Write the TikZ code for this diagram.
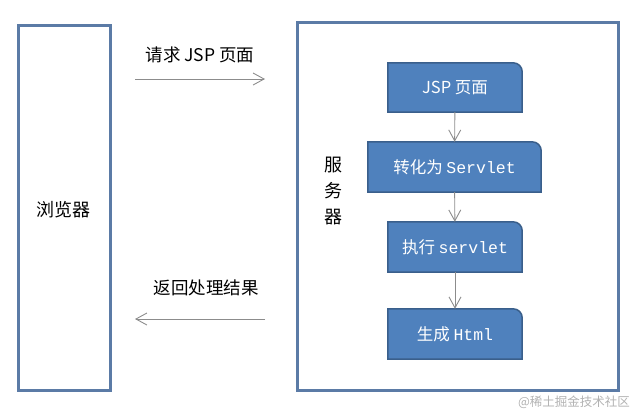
\documentclass[tikz,border=0pt]{standalone}
\usepackage{fontspec}
\setmainfont{Noto Sans CJK SC}
\setmonofont{Liberation Mono}
\usetikzlibrary{arrows.meta, backgrounds}
\definecolor{boxblue}{HTML}{4F81BD}
\definecolor{boxedge}{HTML}{3A5F8B}
\definecolor{frameblue}{HTML}{5B7BA6}
\definecolor{arrowgray}{HTML}{8C8C8C}

\begin{document}
\begin{tikzpicture}[x=1pt, y=-1pt,
    frame/.style={draw=frameblue, line width=3pt},
    stage/.style={text=white, font=\fontsize{16.5}{18}\selectfont, inner sep=0pt},
    flow/.style={draw=arrowgray, line width=0.9pt, -{Straight Barb[length=11pt, width=12pt]}},
    caption/.style={font=\fontsize{17.5}{20}\selectfont}]
    \useasboundingbox (0,0) rectangle (640,413);

    % Browser and server frames
    \draw[frame] (18,25) rectangle (110,390);
    \node[caption, font=\fontsize{18}{20}\selectfont] (browser) at (63,210) {浏览器};
    \draw[frame] (297,22) rectangle (618,390);
    \node[caption, font=\fontsize{18}{26}\selectfont, align=center] (server) at (333,191) {服\\务\\器};

    % Stages inside the server
    \node[stage, minimum width=134pt, minimum height=49pt] (jsp) at (455,87.5) {JSP 页面};
    \node[stage, minimum width=173pt, minimum height=50pt] (servlet) at (454.5,167) {转化为 \texttt{Servlet}};
    \node[stage, minimum width=134pt, minimum height=50pt] (exec) at (455,247) {执行 \texttt{servlet}};
    \node[stage, minimum width=134pt, minimum height=50pt] (html) at (455,334) {生成 \texttt{Html}};
    \begin{scope}[on background layer]
        \foreach \n in {jsp, servlet, exec, html}
            \draw[fill=boxblue, draw=boxedge, line width=1.5pt]
                (\n.south west) -- (\n.north west) -- ([xshift=-9pt]\n.north east)
                arc[start angle=90, end angle=0, radius=9pt] -- (\n.south east) -- cycle;
    \end{scope}

    % Arrows between stages
    \draw[flow] (jsp) -- (servlet);
    \draw[flow] (servlet) -- (exec);
    \draw[flow] (exec) -- (html);

    % Request and response
    \coordinate (reqa) at (135,79);
    \coordinate (reqb) at (265,79);
    \coordinate (resa) at (265,319);
    \coordinate (resb) at (135,319);
    \draw[flow] (reqa) -- (reqb);
    \draw[flow] (resa) -- (resb);
    \node[caption] (reqlabel) at (200,55) {请求 JSP 页面};
    \node[caption] (reslabel) at (206,288) {返回处理结果};

    \node[text=gray!60, font=\fontsize{12.5}{14}\selectfont] (mark) at (574,402) {@稀土掘金技术社区};
\end{tikzpicture}
\end{document}
